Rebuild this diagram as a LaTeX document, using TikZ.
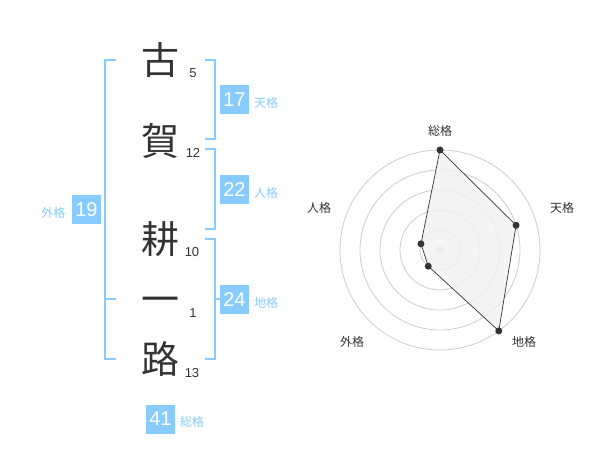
\documentclass[tikz,border=0pt]{standalone}
\usepackage{fontspec}
\setmainfont{Liberation Sans}
\newfontfamily\jp{Noto Sans CJK JP}
\usetikzlibrary{calc}
\definecolor{celeste}{RGB}{136,204,255}
\definecolor{tinta}{RGB}{51,51,51}
\definecolor{rejilla}{RGB}{204,204,204}
\definecolor{relleno}{RGB}{242,242,242}

\begin{document}
\begin{tikzpicture}[x=1pt,y=-1pt,
  kanji/.style={text=tinta,font=\jp\fontsize{38}{38}\selectfont,inner sep=0pt,text height=33.4pt,text depth=4.6pt},
  trazos/.style={text=tinta,font=\fontsize{13}{13}\selectfont,inner sep=0pt},
  caja/.style={fill=celeste,text=white,font=\fontsize{20}{20}\selectfont,minimum width=29pt,minimum height=29pt,inner sep=0pt},
  rotulo/.style={text=celeste,font=\jp\fontsize{12}{12}\selectfont,inner sep=0pt},
  llave/.style={celeste,line width=2pt},
  eje/.style={text=tinta,font=\jp\fontsize{12}{12}\selectfont,inner sep=0pt},
  punto/.style={circle,fill=tinta,inner sep=0pt,minimum size=7pt}]
\useasboundingbox (0,0) rectangle (600,470);
% Nombre: caracteres y trazos
\node[kanji] (ko) at (160,60) {古};
\node[kanji] (ga) at (160,141) {賀};
\node[kanji] (kou) at (160,239) {耕};
\node[kanji] (ichi) at (160,299) {一};
\node[kanji] (ro) at (160,359) {路};
\node[trazos] (n5) at (193,73) {5};
\node[trazos] (n12) at (193,153) {12};
\node[trazos] (n10) at (192,252) {10};
\node[trazos] (n1) at (193,313) {1};
\node[trazos] (n13) at (192,373) {13};
% Llaves
\draw[llave] (116,60) -- (105,60) -- (105,359) -- (116,359);
\draw[llave] (105,299) -- (116,299);
\draw[llave] (205,60) -- (215,60) -- (215,139) -- (205,139);
\draw[llave] (205,149) -- (215,149) -- (215,229) -- (205,229);
\draw[llave] (205,239) -- (215,239) -- (215,359) -- (205,359);
\draw[llave] (215,299) -- (221,299);
% Cajas con los valores
\node[caja] (ten) at (234.5,100) {17};
\node[caja] (jin) at (234.5,190) {22};
\node[caja] (chi) at (234.5,300) {24};
\node[caja] (gai) at (86.5,210) {19};
\node[caja] (sou) at (160.5,419) {41};
\node[rotulo] at (266,103) {天格};
\node[rotulo] at (266,193) {人格};
\node[rotulo] at (266,303) {地格};
\node[rotulo] at (53.5,213) {外格};
\node[rotulo] at (192,422) {総格};
% Radar
\coordinate (centro) at (440,250);
\foreach \r in {20,40,60,80,100}
  \draw[rejilla,line width=0.8pt] (centro) circle[radius=\r];
\fill[rejilla] (centro) circle[radius=4];
\coordinate (rsou) at ($(centro)+(-90:100)$);
\coordinate (rten) at ($(centro)+(-18:80)$);
\coordinate (rchi) at ($(centro)+(54:100)$);
\coordinate (rgai) at ($(centro)+(126:20)$);
\coordinate (rjin) at ($(centro)+(198:20)$);
\draw[tinta,fill=relleno,fill opacity=0.85,line width=0.7pt] (rsou) -- (rten) -- (rchi) -- (rgai) -- (rjin) -- cycle;
\foreach \p in {rsou,rten,rchi,rgai,rjin}
  \node[punto] at (\p) {};
\node[eje] at (440,131) {総格};
\node[eje] at (562,208) {天格};
\node[eje] at (319,208) {人格};
\node[eje] at (352,342) {外格};
\node[eje] at (524,342) {地格};
\end{tikzpicture}
\end{document}
